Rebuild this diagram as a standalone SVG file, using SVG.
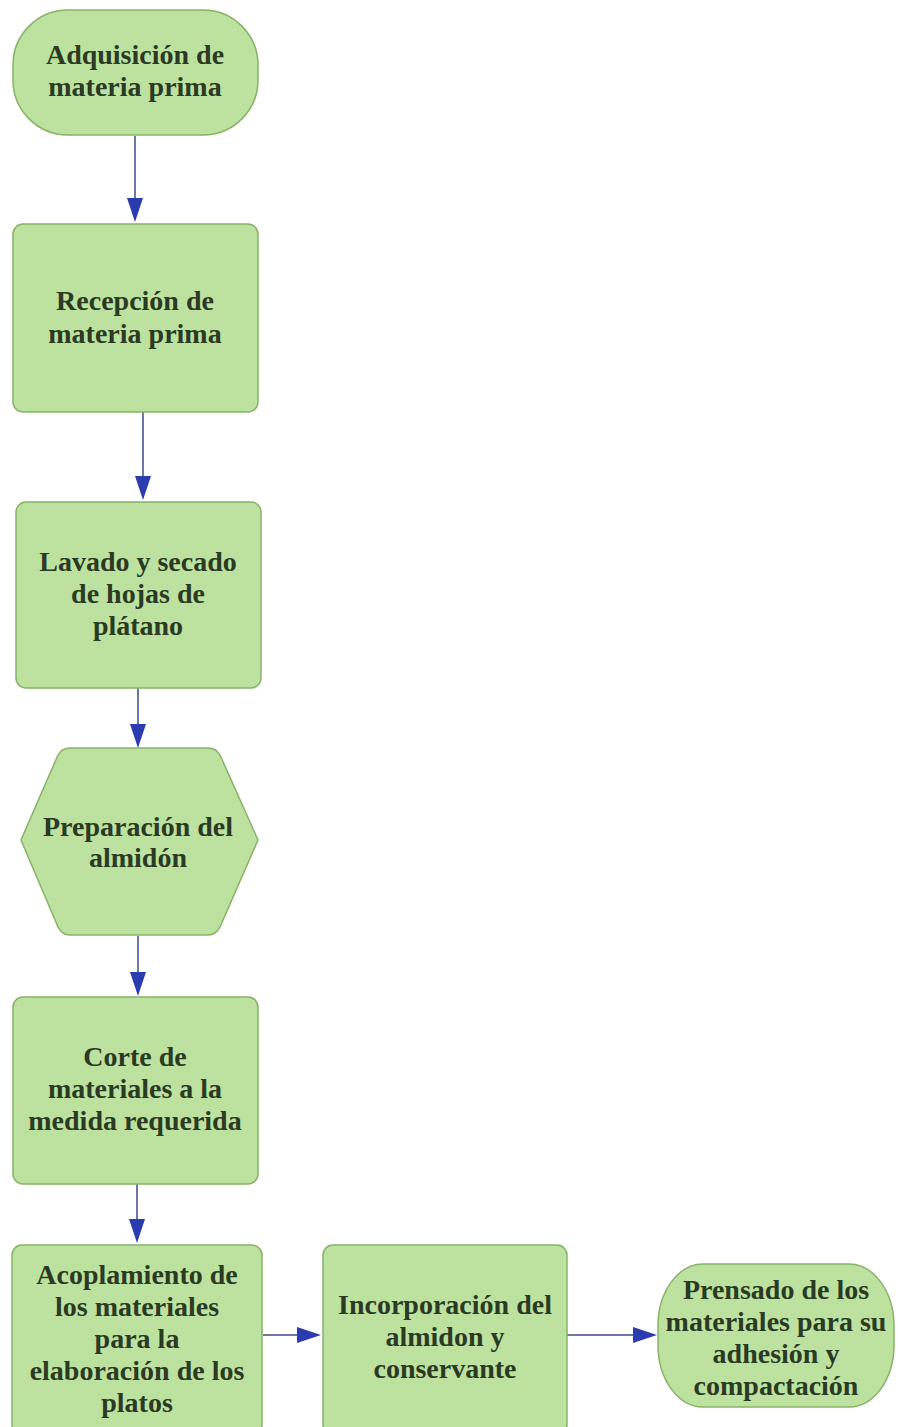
<svg xmlns="http://www.w3.org/2000/svg" width="898" height="1427" viewBox="0 0 898 1427">
<defs>
<style>
.n{fill:#bde2a0;stroke:#86b265;stroke-width:1.5}
.t{font-family:"Liberation Serif",serif;font-weight:bold;font-size:28px;fill:#2b3a22;text-anchor:middle}
.c{stroke:#3a4a8a;stroke-width:1.5;fill:none}
</style>
<marker id="ah" markerWidth="24" markerHeight="16" refX="0" refY="8" orient="auto" markerUnits="userSpaceOnUse" viewBox="0 0 24 16">
<path d="M0,0 L24,8 L0,16 Z" fill="#2a3cae"/>
</marker>
</defs>
<rect width="898" height="1427" fill="#ffffff"/>
<g id="connectors">
<line class="c" x1="135" y1="136" x2="135" y2="198" marker-end="url(#ah)"/>
<line class="c" x1="143" y1="412" x2="143" y2="476" marker-end="url(#ah)"/>
<line class="c" x1="138" y1="688" x2="138" y2="724" marker-end="url(#ah)"/>
<line class="c" x1="138" y1="936" x2="138" y2="972" marker-end="url(#ah)"/>
<line class="c" x1="137" y1="1184" x2="137" y2="1219" marker-end="url(#ah)"/>
<line class="c" x1="263" y1="1335" x2="297" y2="1335" marker-end="url(#ah)"/>
<line class="c" x1="567" y1="1335" x2="633" y2="1335" marker-end="url(#ah)"/>
</g>
<g id="n1">
<rect class="n" x="13" y="10" width="245" height="125" rx="55" ry="55"/>
<text class="t" x="135" y="64">Adquisición de</text>
<text class="t" x="135" y="96">materia prima</text>
</g>
<g id="n2">
<rect class="n" x="13" y="224" width="245" height="188" rx="10"/>
<text class="t" x="135" y="310">Recepción de</text>
<text class="t" x="135" y="343">materia prima</text>
</g>
<g id="n3">
<rect class="n" x="16" y="502" width="245" height="186" rx="10"/>
<text class="t" x="138" y="571">Lavado y secado</text>
<text class="t" x="138" y="603">de hojas de</text>
<text class="t" x="138" y="635">plátano</text>
</g>
<g id="n4">
<path class="n" d="M70,748 L208,748 Q216,748 220,755 L258,840 L220,927 Q216,935 208,935 L70,935 Q62,935 58,927 L21,840 L58,755 Q62,748 70,748 Z"/>
<text class="t" x="138" y="836">Preparación del</text>
<text class="t" x="138" y="867">almidón</text>
</g>
<g id="n5">
<rect class="n" x="13" y="997" width="245" height="187" rx="10"/>
<text class="t" x="135" y="1066">Corte de</text>
<text class="t" x="135" y="1098">materiales a la</text>
<text class="t" x="135" y="1130">medida requerida</text>
</g>
<g id="n6">
<rect class="n" x="12" y="1245" width="250" height="190" rx="10"/>
<text class="t" x="137" y="1284">Acoplamiento de</text>
<text class="t" x="137" y="1316">los materiales</text>
<text class="t" x="137" y="1348">para la</text>
<text class="t" x="137" y="1380">elaboración de los</text>
<text class="t" x="137" y="1412">platos</text>
</g>
<g id="n7">
<rect class="n" x="323" y="1245" width="244" height="190" rx="10"/>
<text class="t" x="445" y="1314">Incorporación del</text>
<text class="t" x="445" y="1346">almidon y</text>
<text class="t" x="445" y="1378">conservante</text>
</g>
<g id="n8">
<rect class="n" x="658" y="1264" width="236" height="143" rx="45" ry="62"/>
<text class="t" x="776" y="1299">Prensado de los</text>
<text class="t" x="776" y="1331">materiales para su</text>
<text class="t" x="776" y="1363">adhesión y</text>
<text class="t" x="776" y="1395">compactación</text>
</g>
</svg>
